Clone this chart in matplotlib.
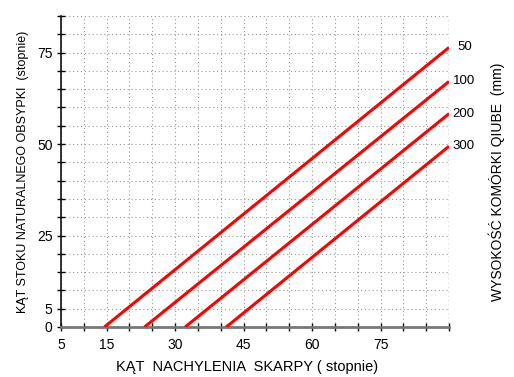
import numpy as np
import matplotlib.pyplot as plt

plt.rcParams['font.family'] = ['Liberation Sans', 'DejaVu Sans']

# line start / end points
heights = ['50', '100', '200', '300']
x_start = [14.5, 23.3, 32.2, 41.2]
x_end = [90, 90, 90, 90]
y_end = [76.4, 67.1, 58.3, 49.4]

x_ticks = np.arange(5, 91, 5)
y_ticks = np.arange(0, 86, 5)
x_labels = {5: '5', 15: '15', 30: '30', 45: '45', 60: '60', 75: '75'}
y_labels = {0: '0', 5: '5', 25: '25', 50: '50', 75: '75'}

fig = plt.figure(figsize=(5.14, 3.77), dpi=100)
ax = fig.add_axes([61 / 514, 1 - 327 / 377, (449 - 61) / 514, (327 - 16) / 377])

for xs, xe, ye, h in zip(x_start, x_end, y_end, heights):
    ax.plot([xs, xe], [0, ye], color='#ff0000', lw=2.2, solid_capstyle='butt', zorder=3)
    ax.text(xe + 0.8 + (1.0 if h == '50' else 0), ye, h, fontsize=9.5,
            va='center', ha='left')

ax.set_xlim(5, 90)
ax.set_ylim(0, 85)
ax.set_xticks(x_ticks)
ax.set_yticks(y_ticks)
ax.set_xticklabels([x_labels.get(int(t), '') for t in x_ticks], fontsize=10)
ax.set_yticklabels([y_labels.get(int(t), '') for t in y_ticks], fontsize=10)
ax.tick_params(direction='inout', length=6, width=1, color='black', pad=3)
ax.tick_params(axis='x', pad=5)

ax.grid(True, linestyle=(0, (1, 2.5)), color='#999999', lw=0.8)
for s in ['top', 'right']:
    ax.spines[s].set_visible(False)
ax.spines['left'].set_color('#111111')
ax.spines['left'].set_linewidth(1.2)
ax.spines['bottom'].set_color('#777777')
ax.spines['bottom'].set_linewidth(2)
ax.axvline(90, color='black', linestyle=(0, (1, 2.5)), lw=0.9)

ax.set_xlabel('KĄT  NACHYLENIA  SKARPY ( stopnie)', fontsize=10.5, va='center')
ax.xaxis.set_label_coords((247 - 61) / (449 - 61), (327 - 367) / (327 - 16))
ax.set_ylabel('KĄT STOKU NATURALNEGO OBSYPKI  (stopnie)', fontsize=9, labelpad=6)
fig.text(497 / 514, 1 - 182 / 377, 'WYSOKOŚĆ KOMÓRKI QIUBE  (mm)', rotation=90,
         fontsize=10, ha='center', va='center')

fig.savefig('out.png', dpi=100)
